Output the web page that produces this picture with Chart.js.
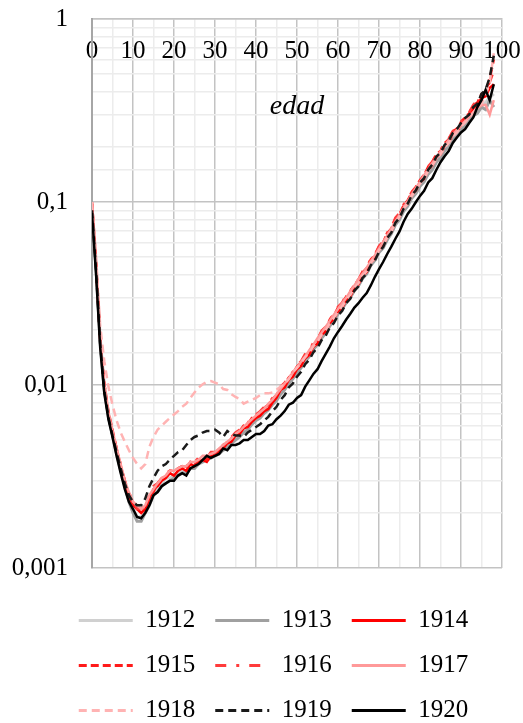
<!DOCTYPE html>
<html>
<head>
<meta charset="utf-8">
<script src="https://cdn.jsdelivr.net/npm/chart.js@4.4.1/dist/chart.umd.min.js"></script>
<style>
html,body{margin:0;padding:0;background:#fff;}
canvas{display:block;}
</style>
</head>
<body>
<canvas id="c" width="523" height="723"></canvas>
<script>
const ages = [0,1,2,3,4,5,6,7,8,9,10,11,12,13,14,15,16,17,18,19,20,21,22,23,24,25,26,27,28,29,30,31,32,33,34,35,36,37,38,39,40,41,42,43,44,45,46,47,48,49,50,51,52,53,54,55,56,57,58,59,60,61,62,63,64,65,66,67,68,69,70,71,72,73,74,75,76,77,78,79,80,81,82,83,84,85,86,87,88,89,90,91,92,93,94,95,96,97,98];

const years = ['1912','1913','1914','1915','1916','1917','1918','1919','1920'];

const q1912 = [0.095,0.046,0.0180,0.0100,0.0070,0.0054,0.0043,0.0035,0.0028,0.0024,
0.0021,0.0019,0.0019,0.0020,0.0023,0.0026,0.0027,0.0029,0.0031,0.0031,
0.0032,0.0033,0.0034,0.0033,0.0035,0.0036,0.0037,0.0038,0.0039,0.0040,
0.0041,0.0043,0.0044,0.0046,0.0048,0.0051,0.0053,0.0056,0.0058,0.0062,
0.0065,0.0067,0.0071,0.0075,0.0079,0.0084,0.0090,0.0096,0.0104,0.0110,
0.0119,0.0126,0.0137,0.0145,0.0158,0.0168,0.0183,0.0195,0.0212,0.0228,
0.0247,0.0263,0.0285,0.0303,0.0330,0.0352,0.0385,0.0410,0.0455,0.0485,
0.0535,0.0568,0.0630,0.0680,0.0760,0.0815,0.0900,0.0965,0.106,0.113,
0.124,0.131,0.145,0.154,0.168,0.178,0.194,0.205,0.222,0.236,
0.252,0.268,0.284,0.302,0.318,0.335,0.350,0.372,0.390];

const q1913 = [0.092,0.043,0.0170,0.0094,0.0067,0.0053,0.0042,0.0034,0.0028,0.0023,
0.0020,0.0018,0.0018,0.0020,0.0022,0.0025,0.0026,0.0028,0.0029,0.0030,
0.0031,0.0032,0.0033,0.0033,0.0035,0.0035,0.0037,0.0038,0.0039,0.0040,
0.0041,0.0042,0.0044,0.0046,0.0048,0.0050,0.0052,0.0055,0.0057,0.0061,
0.0064,0.0066,0.0070,0.0073,0.0078,0.0082,0.0089,0.0094,0.0102,0.0108,
0.0117,0.0124,0.0135,0.0143,0.0156,0.0166,0.0180,0.0192,0.0210,0.0224,
0.0244,0.0260,0.0282,0.0300,0.0327,0.0348,0.0382,0.0405,0.0450,0.0480,
0.0530,0.0560,0.0620,0.0670,0.0750,0.0800,0.0890,0.0950,0.105,0.111,
0.122,0.129,0.142,0.150,0.165,0.174,0.190,0.200,0.218,0.230,
0.246,0.262,0.276,0.296,0.305,0.330,0.320,0.360,0.330];

const q1914 = [0.098,0.044,0.0175,0.0098,0.0069,0.0055,0.0044,0.0036,0.0029,0.0025,
0.0022,0.0021,0.0020,0.0021,0.0024,0.0027,0.0028,0.0030,0.0031,0.0033,
0.0032,0.0034,0.0035,0.0034,0.0037,0.0036,0.0038,0.0039,0.0038,0.0041,
0.0041,0.0044,0.0045,0.0048,0.0049,0.0053,0.0054,0.0058,0.0059,0.0063,
0.0066,0.0068,0.0072,0.0074,0.0080,0.0085,0.0094,0.0097,0.0107,0.0111,
0.0122,0.0127,0.0140,0.0146,0.0162,0.0168,0.0188,0.0196,0.0218,0.0230,
0.0253,0.0264,0.0292,0.0305,0.0340,0.0355,0.0396,0.0415,0.0468,0.0492,
0.0550,0.0575,0.0650,0.0690,0.0790,0.0830,0.0935,0.0985,0.110,0.116,
0.128,0.134,0.151,0.158,0.176,0.182,0.203,0.212,0.234,0.243,
0.264,0.282,0.296,0.325,0.342,0.370,0.378,0.420,0.440];

const q1915 = [0.100,0.047,0.0185,0.0102,0.0072,0.0057,0.0045,0.0036,0.0030,0.0025,
0.0022,0.0021,0.0021,0.0022,0.0024,0.0026,0.0029,0.0031,0.0032,0.0034,
0.0034,0.0035,0.0036,0.0035,0.0038,0.0037,0.0039,0.0040,0.0039,0.0042,
0.0042,0.0045,0.0046,0.0049,0.0051,0.0054,0.0056,0.0060,0.0061,0.0066,
0.0068,0.0071,0.0075,0.0078,0.0084,0.0088,0.0096,0.0101,0.0110,0.0116,
0.0126,0.0133,0.0146,0.0152,0.0168,0.0176,0.0195,0.0204,0.0228,0.0240,
0.0265,0.0278,0.0305,0.0322,0.0355,0.0372,0.0412,0.0435,0.0485,0.0512,
0.0570,0.0600,0.0675,0.0715,0.0810,0.0860,0.0960,0.102,0.113,0.120,
0.132,0.140,0.156,0.165,0.182,0.190,0.210,0.220,0.242,0.252,
0.272,0.292,0.305,0.338,0.350,0.390,0.400,0.470,0.600];

const q1916 = [0.097,0.045,0.0178,0.0099,0.0070,0.0056,0.0045,0.0037,0.0030,0.0026,
0.0023,0.0021,0.0021,0.0022,0.0025,0.0028,0.0029,0.0031,0.0033,0.0034,
0.0033,0.0035,0.0036,0.0036,0.0038,0.0038,0.0040,0.0041,0.0040,0.0043,
0.0043,0.0046,0.0047,0.0050,0.0052,0.0055,0.0057,0.0061,0.0062,0.0067,
0.0069,0.0072,0.0076,0.0079,0.0085,0.0090,0.0098,0.0103,0.0112,0.0118,
0.0128,0.0135,0.0148,0.0155,0.0171,0.0179,0.0198,0.0208,0.0230,0.0243,
0.0268,0.0282,0.0310,0.0326,0.0360,0.0378,0.0418,0.0440,0.0490,0.0518,
0.0575,0.0608,0.0680,0.0725,0.0820,0.0870,0.0970,0.103,0.114,0.121,
0.133,0.141,0.157,0.166,0.183,0.192,0.212,0.222,0.244,0.255,
0.275,0.295,0.310,0.340,0.360,0.385,0.410,0.450,0.520];

const q1917 = [0.096,0.045,0.0180,0.0101,0.0071,0.0056,0.0045,0.0037,0.0030,0.0026,
0.0023,0.0022,0.0021,0.0022,0.0025,0.0027,0.0029,0.0031,0.0032,0.0034,
0.0034,0.0035,0.0036,0.0036,0.0038,0.0038,0.0039,0.0041,0.0041,0.0042,
0.0043,0.0045,0.0047,0.0049,0.0051,0.0054,0.0056,0.0059,0.0062,0.0065,
0.0068,0.0071,0.0074,0.0079,0.0083,0.0089,0.0095,0.0102,0.0108,0.0117,
0.0125,0.0134,0.0143,0.0155,0.0166,0.0180,0.0193,0.0208,0.0224,0.0242,
0.0260,0.0280,0.0300,0.0325,0.0350,0.0378,0.0405,0.0438,0.0475,0.0512,
0.0555,0.0605,0.0655,0.0715,0.0780,0.0850,0.0930,0.101,0.110,0.119,
0.129,0.140,0.151,0.163,0.175,0.189,0.203,0.218,0.232,0.248,
0.262,0.278,0.292,0.310,0.325,0.338,0.340,0.300,0.360];

const q1918 = [0.100,0.050,0.0210,0.0135,0.0098,0.0078,0.0064,0.0055,0.0049,0.0044,
0.0040,0.0037,0.0035,0.0037,0.0046,0.0052,0.0057,0.0060,0.0063,0.0066,
0.0069,0.0072,0.0076,0.0079,0.0085,0.0091,0.0097,0.0101,0.0104,0.0105,
0.0103,0.0101,0.0095,0.0094,0.0089,0.0086,0.0084,0.0079,0.0081,0.0083,
0.0085,0.0088,0.0090,0.0090,0.0091,0.0094,0.0098,0.0101,0.0108,0.0118,
0.0124,0.0132,0.0142,0.0150,0.0163,0.0172,0.0188,0.0198,0.0218,0.0232,
0.0252,0.0268,0.0292,0.0310,0.0340,0.0360,0.0395,0.0420,0.0465,0.0495,
0.0545,0.0580,0.0640,0.0690,0.0770,0.0830,0.0920,0.0980,0.108,0.116,
0.126,0.134,0.148,0.158,0.172,0.182,0.198,0.210,0.228,0.240,
0.258,0.272,0.290,0.306,0.330,0.345,0.380,0.450,0.650];

const q1919 = [0.090,0.042,0.0168,0.0094,0.0067,0.0053,0.0043,0.0035,0.0029,0.0025,
0.0023,0.0022,0.0022,0.0024,0.0028,0.0031,0.0034,0.0036,0.0037,0.0039,
0.0041,0.0043,0.0044,0.0047,0.0050,0.0052,0.0053,0.0055,0.0056,0.0056,
0.0057,0.0055,0.0052,0.0056,0.0054,0.0053,0.0053,0.0052,0.0055,0.0057,
0.0059,0.0061,0.0064,0.0067,0.0072,0.0076,0.0083,0.0088,0.0097,0.0102,
0.0111,0.0118,0.0130,0.0137,0.0151,0.0159,0.0176,0.0186,0.0206,0.0218,
0.0240,0.0254,0.0280,0.0296,0.0328,0.0346,0.0385,0.0406,0.0452,0.0480,
0.0535,0.0568,0.0635,0.0680,0.0770,0.0820,0.0920,0.0980,0.109,0.116,
0.128,0.135,0.150,0.160,0.177,0.186,0.205,0.216,0.238,0.250,
0.270,0.288,0.300,0.330,0.345,0.390,0.410,0.480,0.630];

const q1920 = [0.087,0.040,0.0160,0.0090,0.0065,0.0052,0.0041,0.0033,0.0027,0.0023,
0.0021,0.0019,0.00187,0.0020,0.0022,0.0025,0.0026,0.0028,0.0029,0.0030,
0.0030,0.0032,0.0033,0.0032,0.0035,0.0036,0.0037,0.0039,0.0041,0.0040,
0.0041,0.0042,0.0045,0.0044,0.0047,0.0047,0.0048,0.0050,0.0050,0.0052,
0.0054,0.0054,0.0056,0.0060,0.0061,0.0065,0.0068,0.0072,0.0078,0.0080,
0.0085,0.0088,0.0098,0.0106,0.0115,0.0122,0.0135,0.0148,0.0162,0.0180,
0.0195,0.0210,0.0228,0.0245,0.0265,0.0280,0.0300,0.0318,0.0350,0.0390,
0.0430,0.0470,0.0520,0.0570,0.0630,0.0690,0.0780,0.0860,0.0920,0.1000,
0.108,0.115,0.128,0.135,0.150,0.165,0.178,0.190,0.210,0.225,
0.240,0.250,0.270,0.290,0.330,0.360,0.410,0.360,0.440];

const seriesValues = [q1912,q1913,q1914,q1915,q1916,q1917,q1918,q1919,q1920];

const yMajorTicks = [0.001, 0.01, 0.1, 1];
const yTickLabels = ['0,001', '0,01', '0,1', '1'];
const xTickLabels = [0,10,20,30,40,50,60,70,80,90,100];

const styles = [
  {color:'#d0d0d0', dash:[], width:3},
  {color:'#a0a0a0', dash:[], width:3},
  {color:'#ff0000', dash:[], width:2.5},
  {color:'#ff1a1a', dash:[8,4], width:2.5},
  {color:'#ff3b3b', dash:[11,10,3,10], width:2.5},
  {color:'#ff9999', dash:[], width:2.5},
  {color:'#ffb3b3', dash:[8,5], width:2.5},
  {color:'#1a1a1a', dash:[8,5], width:2.5},
  {color:'#000000', dash:[], width:2.5}
];

const FONT = "'Liberation Serif', 'Times New Roman', serif";

const datasets = years.map((y, i) => ({
  label: y,
  data: ages.map((a, j) => ({x: a, y: seriesValues[i][j]})),
  borderColor: styles[i].color,
  backgroundColor: styles[i].color,
  borderDash: styles[i].dash,
  borderWidth: styles[i].width,
  pointRadius: 0,
  tension: 0,
  fill: false,
  order: years.length - i
}));

function isDecade(v) {
  const l = Math.log10(v);
  return Math.abs(l - Math.round(l)) < 1e-6;
}

// let the y tick labels use the whole left margin (the scale clips its labels to its own box)
const widenYLabelArea = {
  id: 'widenYLabelArea',
  afterLayout(chart) { chart.scales.y.left = 0; }
};

new Chart(document.getElementById('c'), {
  type: 'line',
  data: { datasets },
  plugins: [widenYLabelArea],
  options: {
    responsive: false,
    animation: false,
    layout: { padding: { top: 19, left: 45, right: 21, bottom: -10 } },
    plugins: {
      tooltip: { enabled: false },
      legend: {
        position: 'bottom',
        title: { display: true, text: ' ', font: { size: 1 }, padding: { top: 0, bottom: 18.8 } },
        labels: {
          usePointStyle: true,
          pointStyle: 'line',
          pointStyleWidth: 54,
          padding: 20,
          color: '#000',
          font: { family: FONT, size: 25 },
          generateLabels: (chart) => chart.data.datasets.map((ds, i) => ({
            text: ds.label,
            fillStyle: ds.borderColor,
            strokeStyle: ds.borderColor,
            lineWidth: 3,
            lineDash: ds.borderDash,
            lineCap: 'butt',
            pointStyle: 'line',
            hidden: false,
            datasetIndex: i,
            fontColor: '#000'
          }))
        }
      }
    },
    scales: {
      x: {
        type: 'linear',
        position: 'top',
        min: 0,
        max: 100,
        afterFit: (s) => { s.height = 0; s.paddingLeft = 0; s.paddingRight = 0; s.paddingTop = 0; s.paddingBottom = 0; },
        title: { display: true, text: 'edad', color: '#000', font: { family: FONT, size: 28, style: 'italic' }, padding: { top: 71, bottom: 0 } },
        ticks: {
          stepSize: 5,
          autoSkip: false,
          maxRotation: 0,
          mirror: true,
          padding: 17,
          color: '#000',
          font: { family: FONT, size: 25 },
          callback: (v) => xTickLabels.includes(v) ? String(v) : ''
        },
        grid: {
          drawTicks: false,
          lineWidth: 1.5,
          color: (ctx) => (ctx.tick && ctx.tick.value % 10 === 0) ? '#c3c3c3' : '#ececec'
        },
        border: { display: true, color: '#c3c3c3', width: 1.5 }
      },
      y: {
        type: 'logarithmic',
        position: 'left',
        min: 0.001,
        max: 1,
        afterFit: (s) => { s.width = 47; s.paddingTop = 0; s.paddingBottom = 0; s.paddingLeft = 0; s.paddingRight = 0; },
        ticks: {
          autoSkip: false,
          padding: 24,
          color: '#000',
          font: { family: FONT, size: 25 },
          callback: (v) => {
            for (let k = 0; k < yMajorTicks.length; k++) {
              if (Math.abs(v - yMajorTicks[k]) < yMajorTicks[k] * 1e-6) return yTickLabels[k];
            }
            return '';
          }
        },
        grid: {
          drawTicks: false,
          lineWidth: 1.5,
          color: (ctx) => (ctx.tick && isDecade(ctx.tick.value)) ? '#c3c3c3' : '#ececec'
        },
        border: { display: true, color: '#a6a6a6', width: 2 }
      }
    }
  }
});
</script>
</body>
</html>
